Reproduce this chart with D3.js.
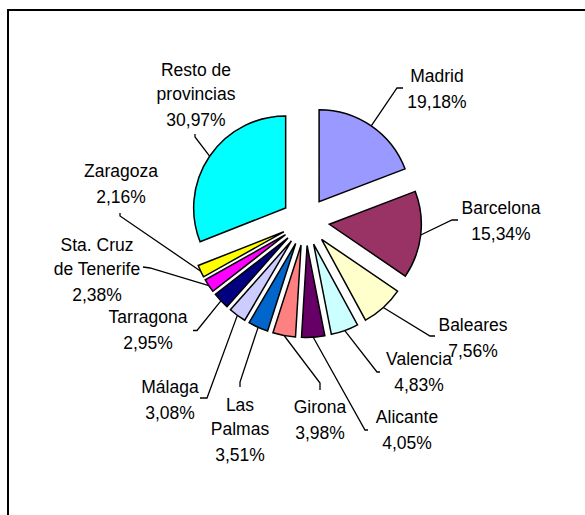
<!DOCTYPE html>
<html><head><meta charset="utf-8">
<script src="https://cdn.jsdelivr.net/npm/d3@7"></script>
<style>body{margin:0;background:#fff;overflow:hidden}</style>
</head><body><svg id="c" width="585" height="515"></svg>
<script>
// ---- data ----
const categories = ["Madrid","Barcelona","Baleares","Valencia","Alicante","Girona","Las Palmas","Málaga","Tarragona","Sta. Cruz de Tenerife","Zaragoza","Resto de provincias"];
const values = [19.18,15.34,7.56,4.83,4.05,3.98,3.51,3.08,2.95,2.38,2.16,30.97];
const colors = ["#9999FF","#993366","#FFFFCC","#CCFFFF","#660066","#FF8080","#0066CC","#CCCCFF","#000080","#FF00FF","#FFFF00","#00FFFF"];
const nameLines = [["Madrid"],["Barcelona"],["Baleares"],["Valencia"],["Alicante"],["Girona"],["Las","Palmas"],["Málaga"],["Tarragona"],["Sta. Cruz","de Tenerife"],["Zaragoza"],["Resto de","provincias"]];

// ---- layout (label anchors: centre of first text line; leader elbow & end) ----
const labelPos = [[437,76],[501,207.5],[473,325],[419,359],[407,416.7],[320,406.5],[240,405],[170,386.7],[148,316.7],[97,245],[121,171],[196,70]];
const leaderEnds = [
  [[397,88],[403,88]],
  [[452,220],[458,220]],
  [[430,336],[435,336]],
  [[377,372],[380,372]],
  [[365,430],[368,430]],
  [[320,383],[320,390]],
  [[240,382],[240,387]],
  [[207,398],[200,398]],
  [[197,330.5],[193,330.5]],
  [[150,268],[143,267]],
  [[120,216],[120,213]],
  [[195,137],[195,134]]
];

const W = 585, H = 515;
const cx = 305.5, cy = 221.5, R = 92, EXPLODE = 24;
const fontSize = 17.5;

const svg = d3.select("#c");
// chart border (extends past right/bottom edge)
svg.append("rect").attr("x",8).attr("y",10).attr("width",W+20).attr("height",H+20)
  .attr("fill","#fff").attr("stroke","#000").attr("stroke-width",2);

const loc = d3.formatLocale({decimal:",", thousands:".", grouping:[3], currency:["","€"]});
const fmt = loc.format(".2f");

const pie = d3.pie().sort(null).value(d => d)(values);
const arc = d3.arc().innerRadius(0).outerRadius(R);
const g = svg.append("g").attr("transform",`translate(${cx},${cy})`);

function dir(a){ return [Math.sin(a), -Math.cos(a)]; }

g.selectAll("path.slice").data(pie).join("path")
  .attr("class","slice")
  .attr("d", arc)
  .attr("transform", d => { const m=(d.startAngle+d.endAngle)/2, v=dir(m); return `translate(${v[0]*EXPLODE},${v[1]*EXPLODE})`; })
  .attr("fill",(d,i)=>colors[i])
  .attr("stroke","#000").attr("stroke-width",1.5).attr("stroke-linejoin","miter");

// leaders
const line = d3.line();
pie.forEach((d,i)=>{
  const m=(d.startAngle+d.endAngle)/2, v=dir(m);
  const start=[cx+v[0]*(R+EXPLODE), cy+v[1]*(R+EXPLODE)];
  svg.append("path").attr("d", line([start, ...leaderEnds[i]]))
    .attr("fill","none").attr("stroke","#000").attr("stroke-width",1.3);
});

// labels
pie.forEach((d,i)=>{
  const [lx,ly]=labelPos[i];
  const t = svg.append("text").attr("text-anchor","middle")
    .attr("font-family","'Liberation Sans', Arial, sans-serif").attr("font-size",fontSize).attr("fill","#000");
  const lines = nameLines[i].concat([fmt(values[i])+"%"]);
  let y = ly + 6;
  lines.forEach((s,k)=>{
    if (k>0) y += (k < nameLines[i].length ? 23.5 : 26.3);
    t.append("tspan").attr("x",lx).attr("y",y).text(s);
  });
});
</script></body></html>
